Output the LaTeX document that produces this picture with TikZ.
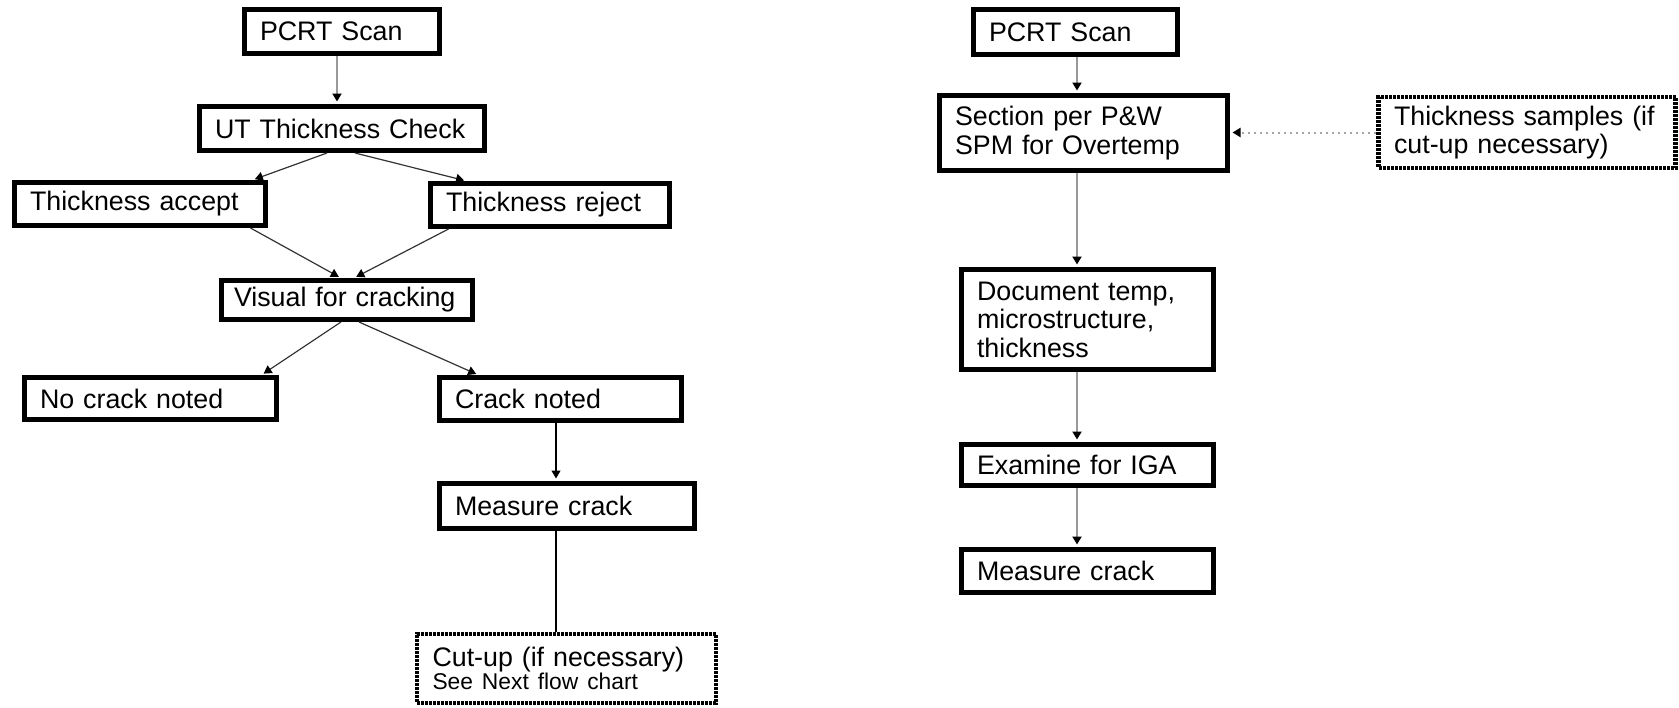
\documentclass[tikz,border=0pt]{standalone}
\usepackage{fontspec}
\setmainfont{Liberation Sans}
\usepackage{tikz}
\usetikzlibrary{arrows.meta,positioning}

\begin{document}
\begin{tikzpicture}[
        x=0.5pt, y=-0.5pt,
        % define styles
        stage/.style={
            draw, rectangle,
            line width=2.5pt,
            inner xsep=7.75pt, inner ysep=0pt,
            align=left,
            font=\fontsize{13.4}{14.25}\selectfont
        },
        maybe/.style={
            stage,
            line width=2.25pt,
            dash pattern=on 1.5pt off 0.5pt
        },
        link/.style={
            draw=black!40, line width=1.2pt,
            -{Triangle[length=4pt,width=4.5pt,color=black]},
            shorten >=1.25pt
        },
        fork/.style={
            draw=black!80, line width=0.6pt,
            -{Triangle[length=4pt,width=4.5pt,color=black]},
            shorten >=1.25pt
        },
        feed/.style={
            draw=black!35, line width=1pt, dotted,
            -{Triangle[length=4pt,width=4.5pt,color=black]},
            shorten >=1.25pt
        }
    ]
    \useasboundingbox (0,0) rectangle (1679,707);

    % left flow chart
    \node[stage, text width=82pt, minimum height=22pt] (pcrtL) at (342,31.5) {PCRT Scan};
    \node[stage, text width=127pt, minimum height=22pt] (utchk) at (342,128.5) {UT Thickness Check};
    \node[stage, text width=110pt, minimum height=21.5pt] (acc) at (140,204) {Thickness accept};
    \node[stage, text width=104pt, minimum height=21.5pt] (rej) at (550,205) {Thickness reject};
    \node[stage, inner xsep=6.25pt, text width=113pt, minimum height=19.5pt] (vis) at (347,300) {Visual for cracking};
    \node[stage, text width=110.5pt, minimum height=21pt] (nocrack) at (150.5,398.5) {No crack noted};
    \node[stage, text width=105.5pt, minimum height=21.5pt] (crack) at (560.5,399) {Crack noted};
    \node[stage, text width=112pt, minimum height=22.5pt] (measL) at (567,506) {Measure crack};
    \node[maybe, text width=134pt, minimum height=34.5pt] (cutup) at (566.5,668.5)
        {Cut-up (if necessary)\\[-3pt]{\fontsize{11.4}{12}\selectfont See Next flow chart}};

    % right flow chart
    \node[stage, text width=86.5pt, minimum height=22.5pt] (pcrtR) at (1075.5,32) {PCRT Scan};
    \node[stage, text width=128.5pt, minimum height=37.5pt] (sect) at (1083.5,133) {Section per P\&W\\SPM for Overtemp};
    \node[maybe, text width=133pt, minimum height=35.5pt] (samples) at (1527,132.5) {Thickness samples (if\\cut-up necessary)};
    \node[stage, text width=110.5pt, minimum height=50pt] (doc) at (1087.5,319.5) {Document temp,\\microstructure,\\thickness};
    \node[stage, text width=110.5pt, minimum height=20.5pt] (exam) at (1087.5,465) {Examine for IGA};
    \node[stage, text width=110.5pt, minimum height=21.5pt] (measR) at (1087.5,571) {Measure crack};

    % connectors of the left chart
    \draw[link] ([xshift=-2.5pt]pcrtL.south) -- ([xshift=-2.5pt]pcrtL.south |- utchk.north);
    \draw[fork] ([xshift=-7.5pt]utchk.south) -- ([xshift=-7.75pt]acc.north east);
    \draw[fork] ([xshift=6.5pt]utchk.south) -- ([xshift=19.25pt]rej.north west);
    \draw[fork] ([xshift=-8.75pt]acc.south east) -- ([xshift=-3pt]vis.north);
    \draw[fork] ([xshift=10.25pt]rej.south west) -- ([xshift=3.5pt]vis.north);
    \draw[fork] ([xshift=-3pt]vis.south) -- ([xshift=-8.75pt]nocrack.north east);
    \draw[fork] ([xshift=6pt]vis.south) -- ([xshift=20.75pt]crack.north west);
    \draw[fork, draw=black] ([xshift=-2.25pt]crack.south) -- ([xshift=-2.25pt]crack.south |- measL.north);
    \draw[black, line width=0.6pt] ([xshift=-5.5pt]measL.south) -- ([xshift=-5.5pt]measL.south |- cutup.north);

    % connectors of the right chart
    \foreach \a/\b in {pcrtR/sect, sect/doc, doc/exam, exam/measR}
        \draw[link] ([xshift=0.75pt]pcrtR.south |- \a.south) -- ([xshift=0.75pt]pcrtR.south |- \b.north);
    \draw[feed] (samples.west) -- (samples.west -| sect.east);
\end{tikzpicture}
\end{document}
